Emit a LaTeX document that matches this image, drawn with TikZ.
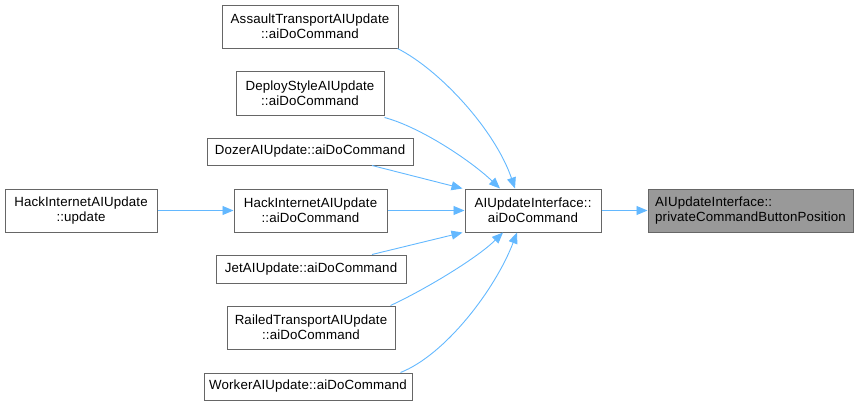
\documentclass[tikz,border=0pt]{standalone}
\usepackage{fontspec}
\setmainfont[LetterSpace=1]{Liberation Sans}
\usetikzlibrary{arrows.meta}
\definecolor{edgeblue}{HTML}{63B8FF}
\definecolor{boxline}{HTML}{666666}
\definecolor{hifill}{HTML}{999999}
\begin{document}
\begin{tikzpicture}[x=1pt,y=-1pt,
  box/.style={draw=boxline,line width=1pt,fill=white,inner sep=0pt,align=center,
    font=\fontsize{13.3}{14.6}\selectfont},
  hibox/.style={box,fill=hifill},
  edge/.style={draw=edgeblue,line width=0.9pt,-{Triangle[length=11pt,width=9pt]}}]
\useasboundingbox (0,0) rectangle (859,405);
\node[box,minimum width=176pt,minimum height=43pt] (assault) at (310,26.5) {AssaultTransportAIUpdate\\::aiDoCommand};
\node[box,minimum width=148pt,minimum height=44pt] (deploy) at (310,93) {DeployStyleAIUpdate\\::aiDoCommand};
\node[box,minimum width=206pt,minimum height=27pt] (dozer) at (310,151.5) {DozerAIUpdate::aiDoCommand};
\node[box,minimum width=153pt,minimum height=43pt] (hackcmd) at (310.5,210.5) {HackInternetAIUpdate\\::aiDoCommand};
\node[box,minimum width=190pt,minimum height=28pt] (jet) at (311,269) {JetAIUpdate::aiDoCommand};
\node[box,minimum width=168pt,minimum height=43pt] (railed) at (311,327.5) {RailedTransportAIUpdate\\::aiDoCommand};
\node[box,minimum width=208pt,minimum height=27pt] (worker) at (308,386.5) {WorkerAIUpdate::aiDoCommand};
\node[box,minimum width=152pt,minimum height=43pt] (hackupd) at (81,210.5) {HackInternetAIUpdate\\::update};
\node[box,minimum width=136pt,minimum height=43pt] (aicmd) at (533,210.5) {AIUpdateInterface::\\aiDoCommand};
\node[hibox,minimum width=205pt,minimum height=43pt,align=left] (priv) at (750.5,210.5) {AIUpdateInterface::\\privateCommandButtonPosition};

\draw[edge] ([xshift=-1pt]assault.south east) .. controls (440,70) and (495,130) .. ([xshift=-18pt]aicmd.north);
\draw[edge] ([yshift=-2pt]deploy.south east) .. controls (420,127) and (470,160) .. ([xshift=-33pt]aicmd.north);
\draw[edge] ([xshift=62pt]dozer.south) -- ([xshift=-2pt]aicmd.north west);
\draw[edge] (hackcmd.east) -- (aicmd.west);
\draw[edge] ([xshift=61pt]jet.north) -- ([xshift=-2pt]aicmd.south west);
\draw[edge] ([xshift=-5pt]railed.north east) .. controls (420,292) and (475,260) .. ([xshift=-30pt]aicmd.south);
\draw[edge] ([xshift=-12pt]worker.north east) .. controls (445,355) and (495,290) .. ([xshift=-16pt]aicmd.south);
\draw[edge] (hackupd.east) -- (hackcmd.west);
\draw[edge] (aicmd.east) -- (priv.west);
\end{tikzpicture}
\end{document}
